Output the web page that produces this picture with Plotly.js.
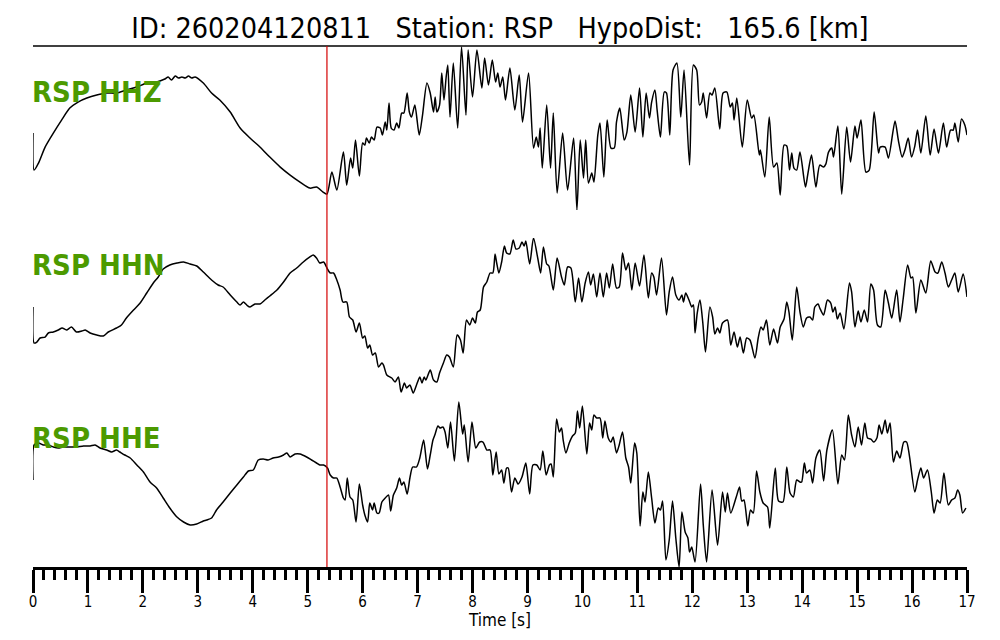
<!DOCTYPE html>
<html><head><meta charset="utf-8">
<script src="https://cdn.plot.ly/plotly-3.0.1.min.js"></script>
<style>html,body{margin:0;padding:0;background:#fff}#chart{width:1000px;height:640px}</style>
</head><body><div id="chart"></div>
<script>
// Title parts
const eventId = "260204120811";
const station = "RSP";
const hypoDist = "165.6";
const channels = ["HHZ", "HHN", "HHE"];
const pArrival = 5.35; // s
const timeTicks = [0,1,2,3,4,5,6,7,8,9,10,11,12,13,14,15,16,17];

// HHZ waveform (time s, relative amplitude)
const hhzT = [0.00,0.02,0.10,0.22,0.37,0.52,0.67,0.82,0.98,1.16,1.34,1.52,1.70,1.89,2.07,2.25,2.40,2.46,2.52,2.59,2.65,2.71,2.77,2.83,2.89,2.95,3.10,3.25,3.40,3.59,3.77,3.95,4.13,4.31,4.50,4.68,4.86,5.04,5.16,5.28,5.35,
5.44,5.53,5.65,5.71,5.78,5.82,5.87,5.94,6.00,6.04,6.07,6.12,6.16,6.21,6.26,6.32,6.36,6.41,6.44,6.48,6.52,6.57,6.62,6.66,6.71,6.75,6.81,6.85,6.89,6.95,7.03,7.09,7.17,7.23,7.29,7.32,7.35,7.40,7.44,7.48,7.52,7.55,7.59,7.65,7.73,7.80,7.88,7.92,8.00,8.08,8.17,8.22,8.29,8.36,8.42,8.46,8.50,8.55,8.60,8.68,8.77,8.85,8.91,9.02,9.11,9.16,9.20,9.23,9.27,9.35,9.42,9.47,9.54,9.64,9.73,9.84,9.90,9.96,10.02,10.06,10.11,10.17,10.21,10.28,10.32,10.39,10.45,10.52,10.58,10.62,10.68,10.76,10.81,10.88,10.96,11.04,
11.10,11.16,11.22,11.26,11.32,11.36,11.42,11.49,11.53,11.59,11.65,11.72,11.79,11.85,11.95,12.02,12.08,12.13,12.17,12.20,12.26,12.32,12.36,12.41,12.50,12.56,12.63,12.69,12.73,12.76,12.81,12.91,13.00,13.08,13.12,13.22,13.24,13.32,13.40,13.48,13.54,13.60,13.67,13.72,13.77,13.81,13.85,13.90,13.96,14.06,14.10,14.17,14.25,14.32,14.39,14.43,14.48,14.54,14.57,14.65,14.72,14.81,14.88,14.96,15.00,15.07,15.16,15.22,15.31,15.39,15.42,15.51,15.57,15.69,15.75,15.82,15.87,15.93,15.99,16.05,16.10,16.16,16.25,16.33,16.40,16.48,16.57,16.63,16.70,16.75,16.78,16.84,16.90,16.96,17.00];
const hhzA = [-5,-42,-35,-19,-5,8,20,26,30,33,35,35,38,41,45,46,49,51,48,52,50,51,50,52,50,51,45,35,28,16,0,-10,-19,-29,-39,-47,-54,-60,-59,-64,-66,
-44,-62,-24,-57,-30,-40,-12,-48,-15,-17,-10,-15,-9,-12,1,0,-7,6,-2,25,0,-2,5,0,15,15,35,16,11,23,-7,13,45,35,16,31,16,23,55,28,51,63,11,65,0,81,13,78,31,78,40,70,43,68,46,55,41,51,28,60,18,53,6,55,-20,-9,-19,0,-40,23,-40,15,-65,-5,-62,-10,-82,-12,-50,-12,-55,-45,-54,-7,5,-49,8,-20,-20,6,20,-12,-4,33,-4,40,
-9,35,10,26,38,18,-9,36,35,-7,58,65,11,58,-37,63,58,23,26,35,10,35,33,40,-1,35,36,21,25,8,30,-19,28,10,13,-27,-22,-49,11,-39,-35,-67,-17,-18,-42,-25,-40,-42,-24,-59,-47,-27,-59,-37,-39,-36,-24,-20,-29,2,-66,1,-34,2,-10,8,-44,-42,16,-25,-19,-19,-30,7,-12,-29,-22,-10,-29,-18,-2,-25,12,-27,-1,-25,5,-19,-2,-2,5,-14,9,3,-7];

// HHN waveform
const hhnT = [0.00,0.02,0.07,0.13,0.22,0.28,0.37,0.46,0.53,0.61,0.70,0.79,0.89,0.95,1.04,1.16,1.28,1.37,1.52,1.61,1.70,1.83,1.95,2.07,2.19,2.28,2.37,2.49,2.62,2.74,2.86,2.98,3.10,3.25,3.37,3.46,3.59,3.71,3.77,3.83,3.89,3.95,4.04,4.13,4.22,4.31,4.44,4.56,4.68,4.80,4.92,5.04,5.10,5.16,
5.22,5.29,5.35,5.41,5.47,5.53,5.59,5.64,5.71,5.76,5.82,5.88,5.94,6.00,6.04,6.09,6.13,6.18,6.23,6.29,6.35,6.38,6.44,6.53,6.59,6.65,6.70,6.76,6.80,6.86,6.92,6.98,7.04,7.08,7.12,7.15,7.23,7.29,7.35,7.40,7.47,7.53,7.58,7.65,7.72,7.78,7.83,7.89,7.95,8.00,8.05,8.09,8.14,8.20,8.26,8.32,8.37,8.41,8.44,8.48,8.53,8.58,8.62,8.68,8.74,8.79,8.85,8.90,8.94,8.97,9.04,9.11,9.19,9.24,9.29,9.35,9.39,9.47,9.54,9.62,9.67,9.73,9.79,9.87,9.93,9.99,10.05,10.11,10.15,10.20,10.26,10.32,10.38,10.44,10.49,10.55,10.62,10.67,10.73,10.79,10.84,10.90,10.96,11.04,
11.12,11.20,11.26,11.30,11.35,11.44,11.53,11.58,11.64,11.70,11.76,11.81,11.84,11.88,11.94,11.99,12.02,12.05,12.09,12.14,12.19,12.24,12.32,12.37,12.41,12.46,12.50,12.55,12.64,12.70,12.76,12.82,12.87,12.93,12.99,13.05,13.14,13.20,13.25,13.29,13.35,13.41,13.48,13.55,13.60,13.67,13.72,13.76,13.82,13.90,13.96,14.02,14.08,14.14,14.19,14.23,14.29,14.32,14.39,14.46,14.52,14.56,14.60,14.64,14.69,14.76,14.86,14.90,14.96,15.02,15.07,15.13,15.19,15.25,15.30,15.37,15.43,15.51,15.57,15.63,15.72,15.78,15.84,15.92,15.98,16.01,16.07,16.16,16.25,16.34,16.42,16.47,16.54,16.60,16.66,16.72,16.78,16.84,16.93,17.00];
const hhnA = [9,-27,-26,-22,-21,-17,-16,-14,-12,-14,-11,-16,-15,-14,-17,-19,-20,-16,-12,-9,-2,6,13,23,33,39,47,51,53,54,52,50,44,36,31,29,21,14,11,14,11,9,12,12,16,20,26,34,43,48,54,59,61,58,
53,54,48,43,43,36,26,14,14,-1,-4,-16,-7,-22,-20,-32,-29,-39,-37,-51,-47,-49,-59,-62,-66,-61,-76,-67,-72,-69,-77,-69,-61,-67,-61,-64,-54,-64,-66,-57,-47,-39,-41,-51,-19,-24,-37,-4,-9,-2,-7,4,6,29,34,43,43,62,53,43,54,70,63,62,76,67,68,74,70,75,52,78,57,43,69,52,50,26,58,39,31,49,48,14,38,14,33,44,31,42,19,43,19,43,28,52,28,29,63,46,53,26,53,30,
61,18,43,39,21,58,1,24,39,21,16,21,14,23,16,9,11,-17,3,16,-6,-36,9,-1,-18,-12,-17,-7,-4,-29,-16,-31,-21,-37,-22,-24,-42,-22,-11,-14,-4,-29,-13,-27,-11,-3,14,4,-24,29,4,-11,-2,-1,-4,9,12,8,1,16,13,4,9,-3,3,-13,33,24,-11,5,-6,6,-6,32,26,-9,-11,26,13,-2,26,-6,18,51,38,39,3,36,23,55,44,43,54,43,29,36,43,24,42,19];

// HHE waveform
const hheT = [0.00,0.02,0.10,0.19,0.28,0.37,0.46,0.55,0.67,0.79,0.92,1.04,1.13,1.22,1.34,1.43,1.52,1.58,1.67,1.77,1.89,2.01,2.13,2.25,2.37,2.49,2.62,2.74,2.86,2.98,3.10,3.16,3.25,3.34,3.46,3.59,3.71,3.83,3.92,4.01,4.10,4.19,4.28,4.37,4.47,4.56,4.62,4.68,4.77,4.86,4.98,5.07,5.16,
5.22,5.29,5.36,5.41,5.47,5.53,5.59,5.65,5.68,5.72,5.77,5.82,5.88,5.94,6.00,6.04,6.09,6.13,6.18,6.21,6.26,6.30,6.35,6.41,6.47,6.51,6.56,6.62,6.67,6.71,6.75,6.81,6.86,6.91,6.98,7.04,7.11,7.18,7.23,7.28,7.32,7.37,7.41,7.46,7.50,7.55,7.60,7.67,7.75,7.82,7.85,7.92,7.99,8.06,8.13,8.19,8.26,8.32,8.37,8.43,8.48,8.53,8.57,8.62,8.65,8.71,8.77,8.83,8.90,8.97,9.04,9.10,9.17,9.23,9.28,9.34,9.40,9.43,9.47,9.53,9.58,9.62,9.65,9.70,9.76,9.82,9.87,9.91,9.95,10.00,10.08,10.13,10.17,10.21,10.26,10.32,10.37,10.41,10.47,10.52,10.56,10.62,10.67,10.73,10.79,10.84,10.88,10.95,10.99,11.05,
11.10,11.14,11.20,11.26,11.32,11.38,11.42,11.46,11.52,11.58,11.64,11.70,11.76,11.81,11.87,11.92,11.95,11.99,12.05,12.15,12.20,12.26,12.36,12.46,12.55,12.60,12.64,12.70,12.80,12.86,12.90,12.94,13.01,13.06,13.11,13.17,13.23,13.29,13.37,13.41,13.51,13.57,13.65,13.72,13.78,13.84,13.90,13.96,13.99,14.04,14.08,14.14,14.19,14.25,14.32,14.39,14.45,14.55,14.65,14.72,14.77,14.84,14.90,14.96,15.02,15.08,15.14,15.19,15.25,15.30,15.36,15.40,15.45,15.51,15.55,15.60,15.66,15.72,15.78,15.85,15.90,15.95,16.05,16.10,16.16,16.21,16.28,16.35,16.40,16.46,16.51,16.58,16.66,16.72,16.78,16.83,16.87,16.92,16.98];
const hheA = [3,38,40,38,38,36,35,36,36,36,37,37,38,35,33,31,33,31,28,25,18,11,1,-5,-15,-25,-34,-39,-42,-41,-38,-37,-35,-27,-19,-10,-2,6,12,13,23,24,23,25,26,28,30,26,29,29,26,23,20,
18,18,15,8,5,5,-4,-15,-17,5,-14,-17,-39,-1,-22,-32,-39,-20,-27,-20,-30,-30,-19,-15,-12,-28,-12,-5,5,-2,1,-11,5,16,16,25,43,14,28,43,49,57,55,56,51,35,61,22,81,49,58,21,61,35,41,41,33,33,8,31,9,13,0,15,15,-9,5,-1,6,20,-11,18,18,13,32,8,18,19,6,64,51,55,43,30,40,47,50,72,55,77,29,60,53,68,65,65,45,62,45,41,46,30,38,51,25,16,0,40,30,-43,
-9,-19,11,-15,-40,-25,-27,-18,-77,-57,-18,-55,-84,-29,-49,-55,-69,-64,-79,-1,-42,-79,-7,-62,-9,-29,-10,-30,-14,-4,-18,-17,-43,-27,-30,12,-9,-20,-24,-45,15,-18,-19,16,-10,-14,3,1,1,20,10,13,0,25,33,2,33,53,-1,28,23,68,48,36,56,38,60,45,44,41,45,58,49,63,50,60,21,32,25,41,41,28,-9,3,15,5,13,-9,-30,-17,-20,10,-22,-17,-15,-7,-12,-30,-25];

const fontFam = "'DejaVu Sans Condensed', 'DejaVu Sans', sans-serif";
const green = "#4c9a00";
const waves = [
  {t: hhzT, a: hhzA, ax: "y3"},
  {t: hhnT, a: hhnA, ax: "y2"},
  {t: hheT, a: hheA, ax: "y"}
];
const data = waves.map(w => ({
  x: w.t, y: w.a, xaxis: "x", yaxis: w.ax, type: "scatter", mode: "lines",
  line: {color: "#000", width: 1.5, shape: "spline", smoothing: 0.7},
  hoverinfo: "skip", showlegend: false
}));

const hiddenY = {visible: false, showgrid: false, zeroline: false, fixedrange: true};
const labelY = [0.912, 0.580, 0.248];
const layout = {
  width: 1000, height: 640,
  margin: {l: 33, r: 33, t: 46, b: 73},
  paper_bgcolor: "#fff", plot_bgcolor: "#fff",
  font: {family: fontFam, color: "#000"},
  title: {
    text: "ID: " + eventId + "\u00a0\u00a0\u00a0Station: " + station + "\u00a0\u00a0\u00a0HypoDist:\u00a0\u00a0\u00a0" + hypoDist + " [km]",
    font: {family: fontFam, size: 28.5, color: "#000"},
    x: 0.5, xanchor: "center", xref: "paper", y: 0.956, yref: "container", yanchor: "middle"
  },
  xaxis: {
    range: [0, 17], tickvals: timeTicks, ticktext: timeTicks.map(String),
    showline: true, linecolor: "#000", linewidth: 2.5,
    ticks: "outside", ticklen: 23, tickwidth: 3, tickcolor: "#000",
    ticklabelstandoff: -4,
    minor: {ticks: "outside", ticklen: 10, tickwidth: 3, tickcolor: "#000", dtick: 0.2, tick0: 0, showgrid: false},
    tickfont: {family: fontFam, size: 15, color: "#000"},
    showgrid: false, zeroline: false, fixedrange: true,
    title: {text: "Time [s]", font: {family: fontFam, size: 17, color: "#000"}, standoff: 0}
  },
  yaxis: Object.assign({domain: [0, 0.3205], range: [-84, 83]}, hiddenY),
  yaxis2: Object.assign({domain: [0.332, 0.6315], range: [-78, 78]}, hiddenY),
  yaxis3: Object.assign({domain: [0.685, 1.0], range: [-82, 82]}, hiddenY),
  shapes: [
    {type: "line", xref: "paper", yref: "paper", x0: 0, x1: 1, y0: 1, y1: 1, line: {color: "#000", width: 1.5}},
    {type: "line", xref: "x", yref: "paper", x0: pArrival, x1: pArrival, y0: 0, y1: 1, line: {color: "#d40000", width: 1.2}}
  ],
  annotations: channels.map((c, i) => ({
    text: station + " " + c, xref: "paper", yref: "paper", x: 0, y: labelY[i],
    xanchor: "left", yanchor: "middle", showarrow: false, xshift: -3,
    font: {family: fontFam, size: 29, color: green, weight: "bold"}
  }))
};
Plotly.newPlot("chart", data, layout, {staticPlot: true, displayModeBar: false});
</script></body></html>
